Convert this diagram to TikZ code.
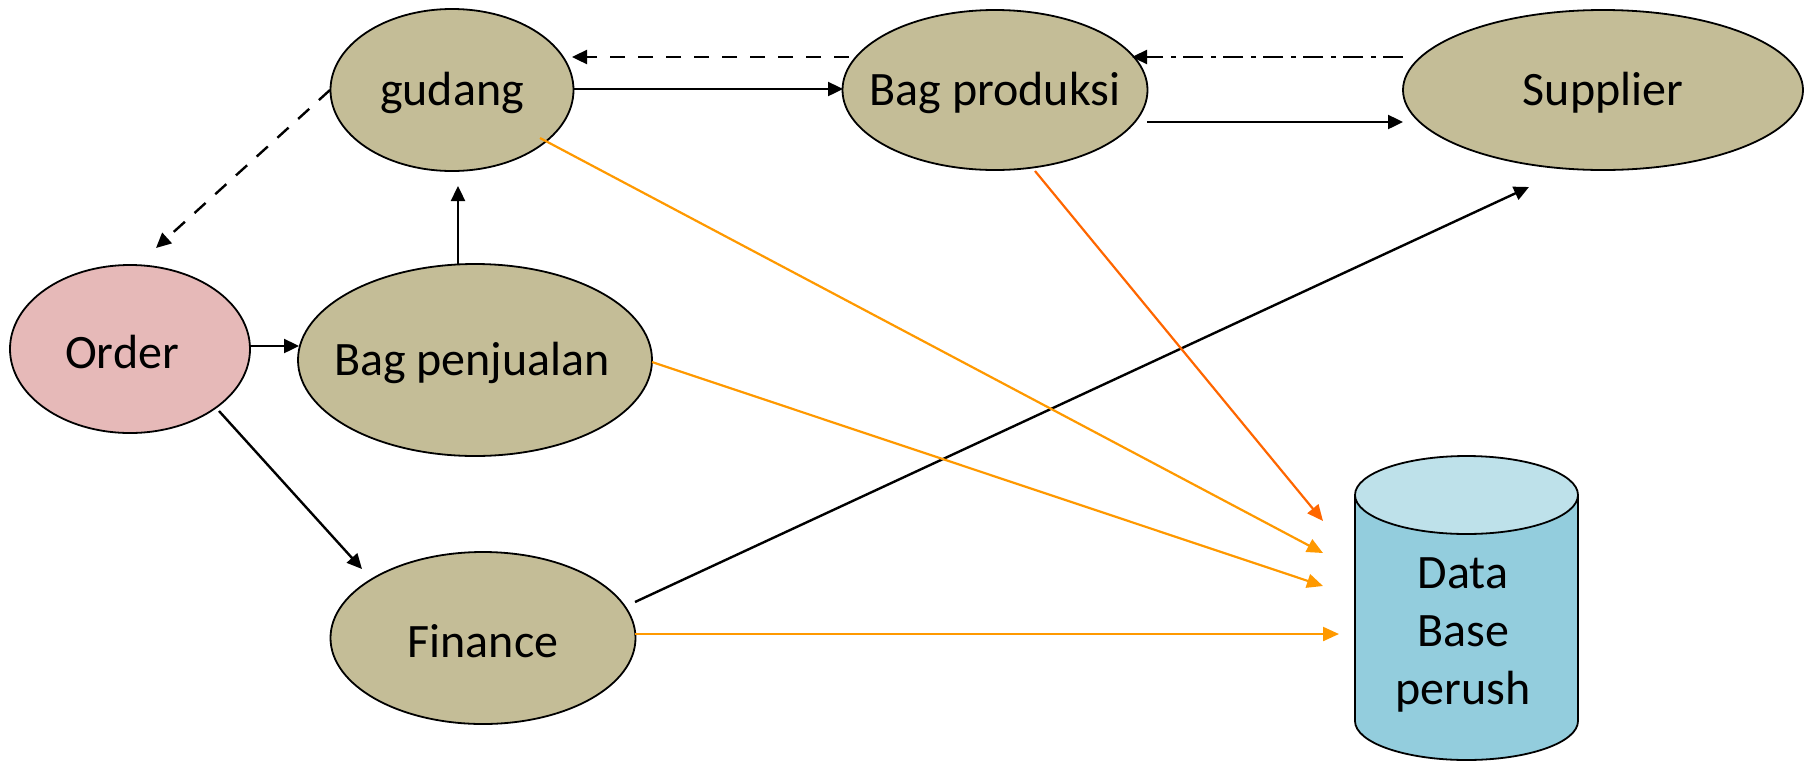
\documentclass[tikz,border=0pt]{standalone}
\usepackage{fontspec}
\setmainfont{Carlito}
\usetikzlibrary{arrows.meta,shapes.geometric}
\definecolor{tanfill}{HTML}{C4BD97}
\definecolor{pinkfill}{HTML}{E6B9B8}
\definecolor{dbside}{HTML}{93CDDD}
\definecolor{dbtop}{HTML}{BEE1EA}
\definecolor{orA}{HTML}{FF9900}
\definecolor{orB}{HTML}{FF6600}
\begin{document}
\begin{tikzpicture}[x=0.5pt,y=-0.5pt,
  font=\fontsize{24}{28.8}\selectfont,
  every label/.style={yshift=-1.5pt},
  proc/.style={ellipse, draw=black, line width=0.9pt, fill=tanfill, inner sep=0pt, outer sep=0pt},
  conn/.style={line width=1.2pt, -{Triangle[length=7.5pt,width=7pt]}},
  oconn/.style={line width=1.1pt, draw=orA, -{Triangle[length=8pt,width=7pt,fill=orA]}},
  dashconn/.style={conn, dash pattern=on 7.5pt off 6.5pt},
  dotdashconn/.style={conn, dash pattern=on 10pt off 3.5pt on 2.5pt off 4pt}]
\useasboundingbox (0,0) rectangle (1810,761);

% nodes
\node[proc, minimum width=121.5pt, minimum height=81pt, label=center:gudang] (gudang) at (452,90) {};
\node[proc, minimum width=152.5pt, minimum height=80pt, label=center:Bag produksi] (prod) at (995,90) {};
\node[proc, minimum width=200pt, minimum height=80pt, label=center:Supplier] (supp) at (1603,90) {};
\node[proc, fill=pinkfill, minimum width=120pt, minimum height=84pt, label={[xshift=-4pt]center:Order}] (order) at (130,349) {};
\node[proc, minimum width=177pt, minimum height=96pt, label={[xshift=-1.5pt]center:Bag penjualan}] (penj) at (475,360) {};
\node[proc, minimum width=152.5pt, minimum height=86pt, label=center:Finance] (fin) at (483,638) {};

% database cylinder
\fill[dbside, draw=black, line width=0.9pt] (1355,495) -- (1355,721)
  arc[start angle=180, end angle=0, x radius=111.5, y radius=39] -- (1578,495) -- cycle;
\filldraw[fill=dbtop, draw=black, line width=0.9pt] (1466.5,495) ellipse [x radius=111.5, y radius=39];
\node[align=center] (db) at (1463,635) {Data\\Base\\perush};

% coordinates for connector ends
\coordinate (gE) at (573,89);
\coordinate (pW) at (843,89);
\coordinate (pNW) at (849,57);
\coordinate (gNE) at (572,57);
\coordinate (sNW) at (1403,57);
\coordinate (pNE) at (1132,57);
\coordinate (pE) at (1147,122);
\coordinate (sW) at (1403,122);
\coordinate (gW) at (330,90);
\coordinate (oTop) at (156,248);
\coordinate (penjN) at (458,265);
\coordinate (gS) at (458,186);
\coordinate (oE) at (251,346);
\coordinate (penjW) at (299,346);
\coordinate (oSE) at (219,411);
\coordinate (finNW) at (362,569);
\coordinate (finNE) at (635,602);
\coordinate (sS) at (1529,187);
\coordinate (gSE) at (540,138);
\coordinate (pS) at (1035,171);
\coordinate (penjE) at (652,362);
\coordinate (finE) at (635,634);
\coordinate (db1) at (1323,521);
\coordinate (db2) at (1323,553);
\coordinate (db3) at (1323,586);
\coordinate (db4) at (1339,634);

% black connectors
\draw[conn] (gE) -- (pW);
\draw[dashconn] (pNW) -- (gNE);
\draw[dotdashconn] (sNW) -- (pNE);
\draw[conn] (pE) -- (sW);
\draw[dashconn] (gW) -- (oTop);
\draw[conn] (penjN) -- (gS);
\draw[conn] (oE) -- (penjW);
\draw[conn] (oSE) -- (finNW);
\draw[conn] (finNE) -- (sS);

% orange connectors
\draw[oconn] (gSE) -- (db2);
\draw[oconn, draw=orB, -{Triangle[length=8pt,width=7pt,fill=orB]}] (pS) -- (db1);
\draw[oconn] (penjE) -- (db3);
\draw[oconn] (finE) -- (db4);
\end{tikzpicture}
\end{document}
